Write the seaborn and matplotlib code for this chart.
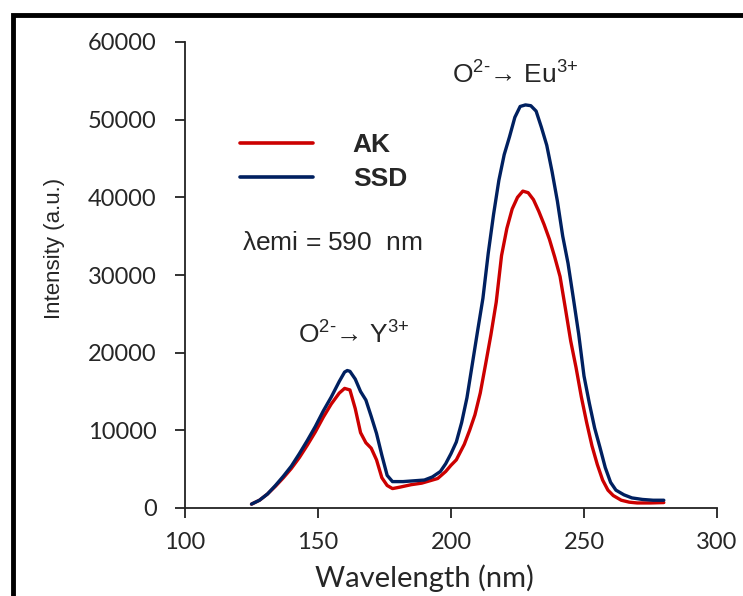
import numpy as np
import pandas as pd
import matplotlib
matplotlib.use('Agg')
import matplotlib.pyplot as plt
from matplotlib.patches import Rectangle
import seaborn as sns

# emission spectra
ak_wl = [125, 128, 131, 134, 137, 140, 143, 146, 149, 152, 155, 158, 160, 162, 164, 166,
         168, 170, 172, 174, 176, 178, 181, 185, 189, 192, 195, 198, 200, 202, 205, 207,
         209, 211, 213, 215, 217, 219, 221, 223, 225, 227, 229, 231, 233, 235, 237, 239,
         241, 243, 245, 247, 249, 251, 253, 255, 257, 259, 261, 264, 267, 270, 275, 280]
ak_int = [500, 1000, 1800, 2800, 3900, 5100, 6500, 8100, 9800, 11700, 13400, 14800, 15400,
          15200, 12800, 9700, 8400, 7700, 6200, 3900, 2900, 2500, 2700, 3000, 3200, 3500,
          3800, 4700, 5500, 6200, 8200, 10000, 12000, 14800, 18500, 22300, 26500, 32500,
          36000, 38500, 40000, 40800, 40600, 39700, 38200, 36500, 34600, 32300, 29800, 25700,
          21500, 18100, 14300, 11000, 8000, 5600, 3600, 2300, 1600, 1000, 750, 650, 650, 700]

ssd_wl = [125, 128, 131, 134, 137, 140, 143, 146, 149, 152, 155, 158, 160, 161, 162, 164,
          166, 168, 170, 172, 174, 176, 178, 182, 186, 190, 193, 196, 198, 200, 202, 204,
          206, 208, 210, 212, 214, 216, 218, 220, 222, 224, 226, 228, 230, 232, 234, 236,
          238, 240, 242, 244, 246, 248, 250, 252, 254, 256, 258, 260, 262, 265, 268, 272,
          276, 280]
ssd_int = [500, 1000, 1800, 2900, 4100, 5400, 7000, 8700, 10500, 12500, 14300, 16300, 17500,
           17700, 17600, 16600, 15000, 13900, 11800, 9600, 6800, 4200, 3400, 3400, 3500, 3600,
           4000, 4700, 5700, 7000, 8500, 11000, 14200, 18500, 22800, 27000, 32800, 37800,
           42200, 45500, 47800, 50300, 51700, 51900, 51800, 51100, 49000, 46700, 43300, 39500,
           35000, 31500, 27000, 22400, 17000, 13500, 10300, 7800, 5200, 3300, 2300, 1700,
           1300, 1100, 1000, 1000]

samples = ['AK', 'SSD']
colors = ['#cc0000', '#002060']

df = pd.concat([
    pd.DataFrame({'wl': ak_wl, 'intensity': ak_int, 'sample': 'AK'}),
    pd.DataFrame({'wl': ssd_wl, 'intensity': ssd_int, 'sample': 'SSD'}),
])

sns.set_style('ticks')
plt.rcParams['font.family'] = ['Liberation Sans', 'DejaVu Sans']
plt.rcParams['mathtext.fontset'] = 'custom'
plt.rcParams['mathtext.rm'] = 'Liberation Sans'
plt.rcParams['mathtext.it'] = 'Liberation Sans'

fig = plt.figure(figsize=(7.43, 5.96), dpi=100)
ax = fig.add_axes([185 / 743, 1 - 508 / 596, (717 - 185) / 743, (508 - 42) / 596])

sns.lineplot(data=df, x='wl', y='intensity', hue='sample', hue_order=samples,
             palette=colors, linewidth=2.4, sort=False, ax=ax)

ax.set_xlim(100, 300)
ax.set_ylim(0, 60000)
ax.set_xticks([100, 150, 200, 250, 300])
ax.set_yticks(range(0, 60001, 10000))
sns.despine(ax=ax)
for side in ['left', 'bottom']:
    ax.spines[side].set_linewidth(1.3)
    ax.spines[side].set_color('#222222')
ax.tick_params(direction='out', length=7, width=1.3, color='#222222')
ax.tick_params(axis='x', pad=10)
ax.tick_params(axis='y', pad=13.5)
for lab in ax.get_xticklabels() + ax.get_yticklabels():
    lab.set_family(['Lato', 'DejaVu Sans'])
    lab.set_fontsize(17)

ax.set_xlabel('Wavelength (nm)', fontsize=21, family=['Lato', 'DejaVu Sans'])
ax.xaxis.set_label_coords(0.45, -0.12)
ax.set_ylabel('Intensity (a.u.)', fontsize=16,
              family=['Liberation Sans Narrow', 'Liberation Sans', 'DejaVu Sans'])
ax.yaxis.set_label_coords(-0.226, 0.556)

leg = ax.legend(frameon=False, loc='upper left', bbox_to_anchor=(0.059, 0.855),
                handlelength=2.77, handletextpad=1.5, labelspacing=0.36,
                prop={'weight': 'bold', 'size': 19})
for line in leg.get_lines():
    line.set_linewidth(2.6)

ax.text(121.5, 34100, r'$\lambda$emi = 590  nm', fontsize=19, va='center', ha='left')
ax.text(163.4, 22300, r'O$^{\text{2-}}$→ Y$^{\text{3+}}$', fontsize=19, ha='center', va='center')
ax.text(224, 55800, r'O$^{\text{2-}}$→ Eu$^{\text{3+}}$', fontsize=19, ha='center', va='center')

# outer frame of the original slide
fig.patches.append(Rectangle((13 / 743, -0.2), 1.2, 1.2 - 15 / 596,
                             transform=fig.transFigure, fill=False,
                             edgecolor='black', linewidth=3.5))

fig.savefig('out.png', dpi=100)
